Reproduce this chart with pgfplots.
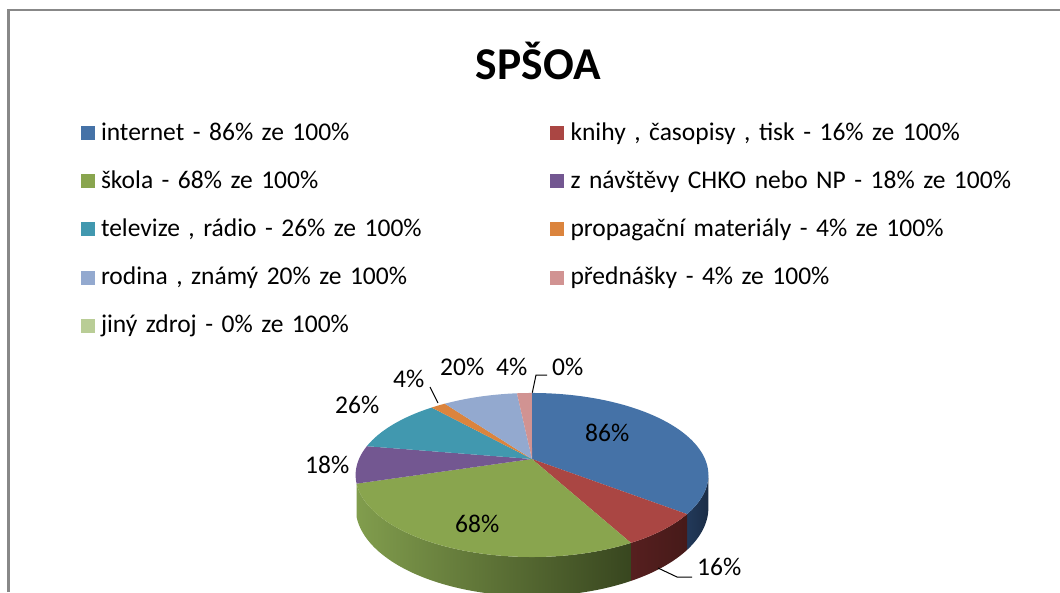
\documentclass[border=0pt]{standalone}
\usepackage{pgfplots}
\pgfplotsset{compat=1.18}
\usepackage{fontspec}
\setmainfont{Carlito}

\definecolor{cA}{HTML}{4572A7}
\definecolor{cB}{HTML}{AA4643}
\definecolor{cC}{HTML}{89A54E}
\definecolor{cD}{HTML}{735791}
\definecolor{cE}{HTML}{4198AF}
\definecolor{cF}{HTML}{DB843D}
\definecolor{cG}{HTML}{93A9CF}
\definecolor{cH}{HTML}{D19392}
\definecolor{cI}{HTML}{B9CD96}
\definecolor{sAL}{HTML}{22395A}
\definecolor{sAR}{HTML}{1B2D46}
\definecolor{sBL}{HTML}{561F1F}
\definecolor{sBR}{HTML}{461A19}
\definecolor{sCL}{HTML}{819D4D}
\definecolor{sCR}{HTML}{38461F}
\definecolor{sDL}{HTML}{5E4979}
\definecolor{sDR}{HTML}{574471}
\definecolor{framecol}{HTML}{888888}

\newcommand\lab{\fontsize{25.5}{30}\selectfont}

\begin{document}
\begin{tikzpicture}
% values of the chart (percent)
\pgfmathsetmacro\total{86+16+68+18+26+4+20+4+0}
\pgfmathsetmacro\tA{90}
\pgfmathsetmacro\tB{\tA-86/\total*360}
\pgfmathsetmacro\tC{\tB-16/\total*360}
\pgfmathsetmacro\tD{\tC-68/\total*360}
\pgfmathsetmacro\tE{\tD-18/\total*360}
\pgfmathsetmacro\tF{\tE-26/\total*360}
\pgfmathsetmacro\tG{\tF-4/\total*360}
\pgfmathsetmacro\tH{\tG-20/\total*360}
\pgfmathsetmacro\tI{\tH-4/\total*360}
\begin{axis}[
  width=1060pt, height=592pt, scale only axis,
  xmin=0, xmax=1060, ymin=0, ymax=592, y dir=reverse,
  hide axis, clip mode=individual,
  declare function={
    pd(\t)=1+0.195*sin(\t);
    px(\t)=532+173*cos(\t)/pd(\t);
    py(\t)=459-78.9*sin(\t)/pd(\t);
    dz(\t)=31.5/pd(\t);
    sth(\ss,\ta,\tb)=(\ss<=1) ? (\ta+\ss*(\tb-\ta)) : ((\ss<=2) ? \tb : (\tb+(\ss-2)*(\ta-\tb)));
    sdp(\ss)=(\ss<=1) ? 0 : ((\ss<=2) ? (\ss-1) : 1);
  },
  legend columns=2,
  legend image code/.code={\fill[#1] (0pt,0pt) rectangle (14pt,14pt);},
  legend style={at={(axis cs:80.5,120)}, anchor=north west,
    draw=none, fill=none, inner sep=0pt, outer sep=0pt,
    row sep=21.2pt, font=\lab,
    cells={anchor=base west},
    nodes={inner sep=0pt, text width=449pt, text height=20pt, text depth=7pt},
    /tikz/every odd column/.append style={column sep=6.5pt}},
]
% white background, a little larger than the page
\fill[white] (axis cs:-8,-8) rectangle (axis cs:1068,600);
% frame
\draw[framecol, line width=2.4pt] (axis cs:8.5,592) -- (axis cs:8.5,10) -- (axis cs:1060,10);

% side faces (front)
\addplot[forget plot, draw=none, left color=sAL, right color=sAR, domain=0:3, samples=121, variable=\s]
  ({px(sth(\s,-11.245,\tB))},{py(sth(\s,-11.245,\tB))+sdp(\s)*dz(sth(\s,-11.245,\tB))}) -- cycle;
\addplot[forget plot, draw=none, left color=sBL, right color=sBR, domain=0:3, samples=121, variable=\s]
  ({px(sth(\s,\tB,\tC))},{py(sth(\s,\tB,\tC))+sdp(\s)*dz(sth(\s,\tB,\tC))}) -- cycle;
\addplot[forget plot, draw=none, left color=sCL, right color=sCR, domain=0:3, samples=181, variable=\s]
  ({px(sth(\s,\tC,\tD))},{py(sth(\s,\tC,\tD))+sdp(\s)*dz(sth(\s,\tC,\tD))}) -- cycle;
\addplot[forget plot, draw=none, left color=sDL, right color=sDR, domain=0:3, samples=121, variable=\s]
  ({px(sth(\s,\tD,-168.755))},{py(sth(\s,\tD,-168.755))+sdp(\s)*dz(sth(\s,\tD,-168.755))}) -- cycle;

% top faces
\addplot[fill=cA, draw=none, domain=\tB:\tA, samples=90, variable=\t] ({px(\t)},{py(\t)}) -- (axis cs:532,459) -- cycle;
\addlegendentry{internet - 86\% ze 100\%}
\addplot[fill=cB, draw=none, domain=\tC:\tB, samples=30, variable=\t] ({px(\t)},{py(\t)}) -- (axis cs:532,459) -- cycle;
\addlegendentry{knihy , časopisy , tisk - 16\% ze 100\%}
\addplot[fill=cC, draw=none, domain=\tD:\tC, samples=80, variable=\t] ({px(\t)},{py(\t)}) -- (axis cs:532,459) -- cycle;
\addlegendentry{škola - 68\% ze 100\%}
\addplot[fill=cD, draw=none, domain=\tE:\tD, samples=30, variable=\t] ({px(\t)},{py(\t)}) -- (axis cs:532,459) -- cycle;
\addlegendentry{z návštěvy CHKO nebo NP - 18\% ze 100\%}
\addplot[fill=cE, draw=none, domain=\tF:\tE, samples=40, variable=\t] ({px(\t)},{py(\t)}) -- (axis cs:532,459) -- cycle;
\addlegendentry{televize , rádio - 26\% ze 100\%}
\addplot[fill=cF, draw=none, domain=\tG:\tF, samples=10, variable=\t] ({px(\t)},{py(\t)}) -- (axis cs:532,459) -- cycle;
\addlegendentry{propagační materiály - 4\% ze 100\%}
\addplot[fill=cG, draw=none, domain=\tH:\tG, samples=30, variable=\t] ({px(\t)},{py(\t)}) -- (axis cs:532,459) -- cycle;
\addlegendentry{rodina , známý 20\% ze 100\%}
\addplot[fill=cH, draw=none, domain=\tI:\tH, samples=10, variable=\t] ({px(\t)},{py(\t)}) -- (axis cs:532,459) -- cycle;
\addlegendentry{přednášky - 4\% ze 100\%}
\addlegendimage{fill=cI, draw=none}
\addlegendentry{jiný zdroj - 0\% ze 100\%}

% data labels
\node[anchor=base west, font=\lab, inner sep=0pt] at (axis cs:585,441) {86\%};
\node[anchor=base west, font=\lab, inner sep=0pt] at (axis cs:697,575) {16\%};
\node[anchor=base west, font=\lab, inner sep=0pt] at (axis cs:455,532) {68\%};
\node[anchor=base west, font=\lab, inner sep=0pt] at (axis cs:305,473) {18\%};
\node[anchor=base west, font=\lab, inner sep=0pt] at (axis cs:335,413) {26\%};
\node[anchor=base west, font=\lab, inner sep=0pt] at (axis cs:393,387) {4\%};
\node[anchor=base west, font=\lab, inner sep=0pt] at (axis cs:440,375) {20\%};
\node[anchor=base west, font=\lab, inner sep=0pt] at (axis cs:496,375) {4\%};
\node[anchor=base west, font=\lab, inner sep=0pt] at (axis cs:552,375) {0\%};
% leader lines
\draw[black, line width=1pt] (axis cs:658,568) -- (axis cs:677,577) -- (axis cs:692,577);
\draw[black, line width=1pt] (axis cs:430,387) -- (axis cs:438,403);
\draw[black, line width=1pt] (axis cs:532.3,392.7) -- (axis cs:536,375) -- (axis cs:547,375);

% title
\node[anchor=base, font=\fontsize{45.5}{50}\selectfont\bfseries, inner sep=0pt] at (axis cs:538.4,79) {SPŠOA};
\end{axis}
\pgfresetboundingbox
\path (current axis.south west) rectangle (current axis.north east);
\end{tikzpicture}
\end{document}
